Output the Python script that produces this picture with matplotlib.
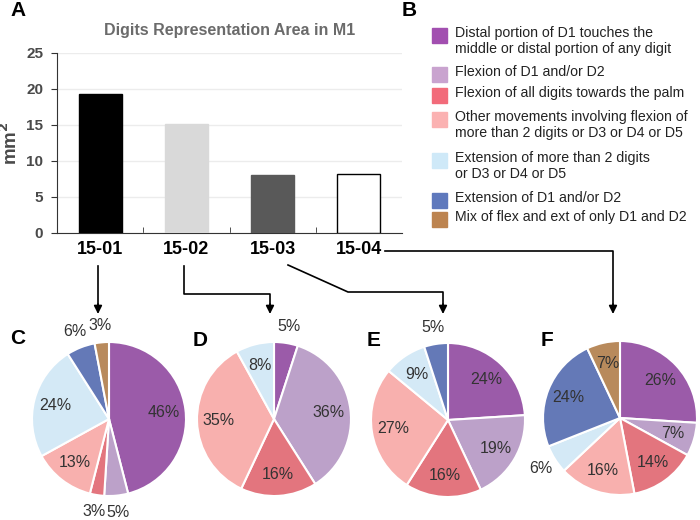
import matplotlib
matplotlib.use("Agg")
import matplotlib.pyplot as plt
from matplotlib.patches import Rectangle, FancyArrowPatch
import numpy as np

plt.rcParams['font.family'] = ['Liberation Sans', 'DejaVu Sans']

# data
monkeys = ["15-01", "15-02", "15-03", "15-04"]
area_mm2 = [19.3, 15.2, 8.1, 8.2]
bar_colors = ["#000000", "#d9d9d9", "#595959", "#ffffff"]

categories = [
    "Distal portion of D1 touches the\nmiddle or distal portion of any digit",
    "Flexion of D1 and/or D2",
    "Flexion of all digits towards the palm",
    "Other movements involving flexion of\nmore than 2 digits or D3 or D4 or D5",
    "Extension of more than 2 digits\nor D3 or D4 or D5",
    "Extension of D1 and/or D2",
    "Mix of flex and ext of only D1 and D2",
]
legend_colors = ["#a24fb0", "#c9a3cf", "#f26b7a", "#fbb2b2", "#cfe9f8", "#5f79bd", "#bd8450"]
pie_colors = ["#9b5ba9", "#bca1c9", "#e3757e", "#f8b0ae", "#d4e9f6", "#6479b7", "#b88a5c"]

pie_c = [46, 5, 3, 13, 24, 6, 3]
pie_d = [5, 36, 16, 35, 8, 0, 0]
pie_e = [24, 19, 16, 27, 9, 5, 0]
pie_f = [26, 7, 14, 16, 6, 24, 7]
pies = [pie_c, pie_d, pie_e, pie_f]
pie_letters = ["C", "D", "E", "F"]

W, H = 700, 520
fig = plt.figure(figsize=(W / 100, H / 100), dpi=100)


def fx(x):
    return x / W


def fy(y):
    return 1 - y / H


# bar chart (A)
ax = fig.add_axes([fx(57), fy(233), fx(402) - fx(57), fy(53) - fy(233)])
xpos = np.arange(len(monkeys))
ax.bar(xpos, area_mm2, width=0.5, color=bar_colors, edgecolor=["#000000", "#d9d9d9", "#595959", "#000000"],
       linewidth=1, zorder=3)
ax.set_xlim(-0.5, len(monkeys) - 0.5)
ax.set_ylim(0, 25)
ax.set_yticks([0, 5, 10, 15, 20, 25])
ax.yaxis.grid(True, color="#ececec", linewidth=1, zorder=0)
ax.set_xticks(xpos)
ax.set_xticklabels(monkeys, fontsize=13, fontweight="bold")
ax.set_xticks(np.arange(0.5, len(monkeys) - 0.5), minor=True)
ax.tick_params(axis="x", which="major", length=0, pad=6)
ax.tick_params(axis="x", which="minor", length=4, direction="in", color="#333333")
ax.tick_params(axis="y", length=4, color="#333333", labelsize=11, labelcolor="#4a4a4a", pad=6)
for lab in ax.get_yticklabels():
    lab.set_fontweight("bold")
for s in ["top", "right"]:
    ax.spines[s].set_visible(False)
for s in ["left", "bottom"]:
    ax.spines[s].set_color("#333333")
ax.set_ylabel("mm$^\\mathbf{2}$", fontsize=13.5, fontweight="bold", color="#4a4a4a", labelpad=4)
ax.set_title("Digits Representation Area in M1", fontsize=11.5, fontweight="bold", color="#6b6b6b", pad=13)

# legend (B)
entry_top = [28, 67, 88, 112, 153, 193, 212]
for i, lab in enumerate(categories):
    fig.patches.append(Rectangle((fx(432), fy(entry_top[i] + 15)), fx(15), fy(0) - fy(15),
                                 transform=fig.transFigure, color=legend_colors[i]))
    fig.text(fx(455), fy(entry_top[i] - 2), lab, fontsize=10.2, va="top", ha="left",
             color="#222222", linespacing=1.15)

# pies
pie_centers = [(109, 419), (274, 419), (448, 420), (620, 418)]
pie_r = 77
letter_pos = [(10, 339), (193, 341), (367, 341), (541, 340)]
for k, vals in enumerate(pies):
    cx, cy = pie_centers[k]
    pax = fig.add_axes([fx(cx - pie_r), fy(cy + pie_r), fx(2 * pie_r), fy(0) - fy(2 * pie_r)])
    nz = [i for i, v in enumerate(vals) if v > 0]
    wedges, _ = pax.pie([vals[i] for i in nz], colors=[pie_colors[i] for i in nz], startangle=90,
                        counterclock=False, radius=1,
                        wedgeprops=dict(edgecolor="white", linewidth=1.5))
    pax.set_xlim(-1, 1)
    pax.set_ylim(-1, 1)
    pax.set_aspect("equal")
    for w, i in zip(wedges, nz):
        ang = np.deg2rad((w.theta1 + w.theta2) / 2)
        d = 1.22 if vals[i] <= 6 else 0.72
        pax.text(d * np.cos(ang), d * np.sin(ang), f"{vals[i]}%", ha="center", va="center",
                 fontsize=11.5, color="#333333", clip_on=False)
    lx, ly = letter_pos[k]
    fig.text(fx(lx), fy(ly), pie_letters[k], fontsize=15, fontweight="bold", va="center", ha="left")

fig.text(fx(10), fy(11), "A", fontsize=15, fontweight="bold", va="center", ha="left")
fig.text(fx(402), fy(11), "B", fontsize=15, fontweight="bold", va="center", ha="left")

# connector arrows from bars to pies
paths = [
    [(98, 266), (98, 314)],
    [(184, 266), (184, 294), (270, 294), (270, 314)],
    [(288, 265), (348, 292), (443, 292), (443, 314)],
    [(385, 251), (613, 251), (613, 314)],
]
for p in paths:
    xs = [fx(a) for a, b in p]
    ys = [fy(b) for a, b in p]
    fig.add_artist(plt.Line2D(xs[:-1] + [xs[-1]], ys[:-1] + [ys[-1] + (fy(0) - fy(8))],
                              transform=fig.transFigure, color="black", linewidth=1.2))
    fig.add_artist(FancyArrowPatch((xs[-1], ys[-1] + (fy(0) - fy(10))), (xs[-1], ys[-1]),
                                   transform=fig.transFigure, arrowstyle="-|>", mutation_scale=12,
                                   color="black", linewidth=1.2, shrinkA=0, shrinkB=0))

fig.savefig("out.png", dpi=100)
